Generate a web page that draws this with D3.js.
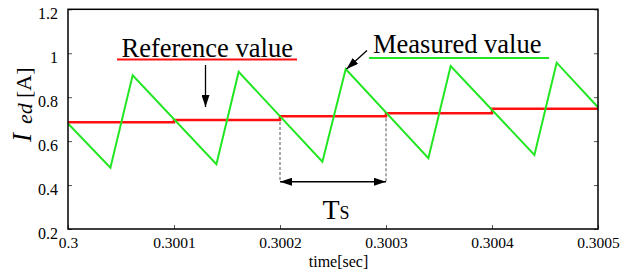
<!DOCTYPE html>
<html>
<head>
<meta charset="utf-8">
<script src="https://cdn.jsdelivr.net/npm/d3@7"></script>
<style>
  body { margin: 0; background: #fff; }
</style>
</head>
<body>
<div id="chart"></div>
<script>
const serif = "'Liberation Serif', 'Times New Roman', Times, 'DejaVu Serif', serif";

// tick values and labels
const timeTicks = [0.3, 0.3001, 0.3002, 0.3003, 0.3004, 0.3005];
const timeLabels = ["0.3", "0.3001", "0.3002", "0.3003", "0.3004", "0.3005"];
const currentTicks = [0.2, 0.4, 0.6, 0.8, 1.0, 1.2];
const currentLabels = ["0.2", "0.4", "0.6", "0.8", "1", "1.2"];

// reference value (step per sampling period)
const refTime = [0.3, 0.3001, 0.3002, 0.3003, 0.3004, 0.3005];
const refValue = [0.686, 0.696, 0.713, 0.727, 0.747, 0.747];

// measured value (sawtooth corners)
const measTime = [0.3, 0.30004, 0.300061, 0.30014, 0.300161, 0.30024, 0.300262,
  0.30034, 0.300361, 0.30044, 0.300461, 0.3005];
const measValue = [0.68, 0.479, 0.90, 0.495, 0.915, 0.506, 0.928,
  0.522, 0.942, 0.537, 0.957, 0.754];

const width = 637, height = 273;
const margin = { top: 9.3, right: 39, bottom: 44, left: 68 };

const svg = d3.select("#chart").append("svg")
  .attr("width", width)
  .attr("height", height)
  .attr("font-family", serif);

const x = d3.scaleLinear()
  .domain([0.3, 0.3005])
  .range([margin.left, width - margin.right]);

const y = d3.scaleLinear()
  .domain([0.2, 1.2])
  .range([height - margin.bottom, margin.top]);

// arrow heads
const defs = svg.append("defs");
defs.append("marker")
  .attr("id", "head")
  .attr("viewBox", "0 0 12 8")
  .attr("refX", 12).attr("refY", 4)
  .attr("markerWidth", 12).attr("markerHeight", 8)
  .attr("markerUnits", "userSpaceOnUse")
  .attr("orient", "auto-start-reverse")
  .append("path").attr("d", "M0,0 L12,4 L0,8 Z").attr("fill", "#000");
defs.append("clipPath").attr("id", "plot")
  .append("rect")
  .attr("x", x(0.3)).attr("y", y(1.2))
  .attr("width", x(0.3005) - x(0.3)).attr("height", y(0.2) - y(1.2));

// axes with inward ticks
const xAxis = svg.append("g")
  .attr("transform", `translate(0,${y(0.2)})`)
  .call(d3.axisBottom(x).tickValues(timeTicks)
    .tickFormat((d, i) => timeLabels[i])
    .tickSizeInner(-4).tickSizeOuter(0).tickPadding(8));
xAxis.attr("font-family", serif).attr("font-size", 15.5);
xAxis.selectAll("text").attr("fill", "#000");

const yAxis = svg.append("g")
  .attr("transform", `translate(${x(0.3)},0)`)
  .call(d3.axisLeft(y).tickValues(currentTicks)
    .tickFormat((d, i) => currentLabels[i])
    .tickSizeInner(-4).tickSizeOuter(0).tickPadding(10));
yAxis.attr("font-family", serif).attr("font-size", 16);
yAxis.selectAll("text").attr("dy", "0.6em").attr("fill", "#000");

const yRight = svg.append("g")
  .attr("transform", `translate(${x(0.3005)},0)`)
  .call(d3.axisRight(y).tickValues(currentTicks).tickFormat("")
    .tickSizeInner(-4).tickSizeOuter(0));

[xAxis, yAxis, yRight].forEach(g => {
  g.select(".domain").remove();
  g.selectAll(".tick line").attr("stroke", "#555");
});

// reference and measured lines
const plot = svg.append("g").attr("clip-path", "url(#plot)");

const refLine = d3.line()
  .x((d, i) => x(refTime[i]))
  .y(d => y(d))
  .curve(d3.curveStepAfter);

plot.append("path")
  .datum(refValue)
  .attr("d", refLine)
  .attr("fill", "none")
  .attr("stroke", "#ff1010")
  .attr("stroke-width", 2.5);

const measLine = d3.line()
  .x((d, i) => x(measTime[i]))
  .y(d => y(d));

plot.append("path")
  .datum(measValue)
  .attr("d", measLine)
  .attr("fill", "none")
  .attr("stroke", "#22e622")
  .attr("stroke-width", 2);

// frame
svg.append("rect")
  .attr("x", x(0.3)).attr("y", y(1.2))
  .attr("width", x(0.3005) - x(0.3)).attr("height", y(0.2) - y(1.2))
  .attr("fill", "none")
  .attr("stroke", "#000")
  .attr("stroke-width", 1.5);

// axis titles
svg.append("text")
  .attr("x", 338.5).attr("y", 266.5)
  .attr("text-anchor", "middle")
  .attr("font-size", 16)
  .text("time[sec]");

const yTitle = svg.append("g").attr("transform", "translate(31,0) rotate(-90)");
yTitle.append("text").attr("x", -142).attr("y", 0)
  .attr("font-size", 27).attr("font-style", "italic").text("I");
yTitle.append("text").attr("x", -124).attr("y", 1)
  .attr("font-size", 22).attr("font-style", "italic").text("ed");
yTitle.append("text").attr("x", -98).attr("y", 0)
  .attr("font-size", 22).text("[A]");

// "Reference value" label
svg.append("text")
  .attr("x", 121.5).attr("y", 56.7)
  .attr("font-size", 26.5)
  .text("Reference value");
svg.append("line")
  .attr("x1", 117).attr("x2", 297).attr("y1", 59.5).attr("y2", 59.5)
  .attr("stroke", "#ff1010").attr("stroke-width", 2);
svg.append("line")
  .attr("x1", 205.5).attr("x2", 205.5).attr("y1", 65).attr("y2", 107)
  .attr("stroke", "#000").attr("stroke-width", 1.3)
  .attr("marker-end", "url(#head)");

// "Measured value" label
svg.append("text")
  .attr("x", 373).attr("y", 53.3)
  .attr("font-size", 26.5)
  .text("Measured value");
svg.append("line")
  .attr("x1", 369).attr("x2", 549).attr("y1", 58).attr("y2", 58)
  .attr("stroke", "#22e622").attr("stroke-width", 2);
svg.append("line")
  .attr("x1", 367).attr("y1", 50.5).attr("x2", 346.5).attr("y2", 69)
  .attr("stroke", "#000").attr("stroke-width", 1.3)
  .attr("marker-end", "url(#head)");

// sampling period Ts
const tsY = y(0.415);
[[0.3002, 0.696], [0.3003, 0.713]].forEach(([t, v]) => {
  svg.append("line")
    .attr("x1", x(t)).attr("x2", x(t))
    .attr("y1", y(v) + 2).attr("y2", tsY)
    .attr("stroke", "#555").attr("stroke-width", 1)
    .attr("stroke-dasharray", "3,2");
});
svg.append("line")
  .attr("x1", x(0.3002)).attr("x2", x(0.3003))
  .attr("y1", tsY).attr("y2", tsY)
  .attr("stroke", "#000").attr("stroke-width", 1.3)
  .attr("marker-start", "url(#head)")
  .attr("marker-end", "url(#head)");

const ts = svg.append("text").attr("x", 322.5).attr("y", 219);
ts.append("tspan").attr("font-size", 28).text("T");
ts.append("tspan").attr("font-size", 18).text("S");
</script>
</body>
</html>
